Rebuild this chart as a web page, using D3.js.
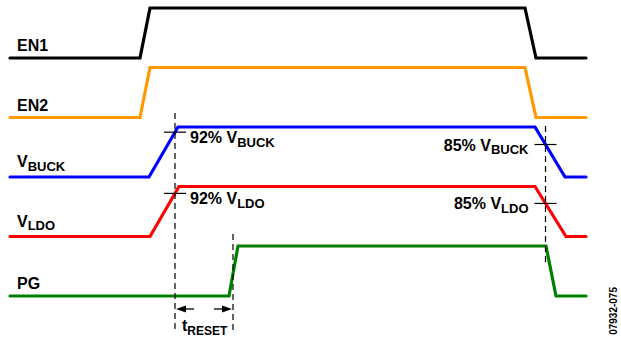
<!DOCTYPE html>
<html><head><meta charset="utf-8">
<script src="https://cdn.jsdelivr.net/npm/d3@7"></script>
<style>
body{margin:0;background:#fff}
svg{display:block}
text{font-family:"Liberation Sans",Arial,sans-serif;font-weight:bold;fill:#000}
</style>
</head><body>
<svg id="c" width="621" height="337"></svg>
<script>
// ---- data ----
const signalNames = ["EN1", "EN2", "VBUCK", "VLDO", "PG"];
const labelMain = ["EN1", "EN2", "V", "V", "PG"];
const labelSub = ["", "", "BUCK", "LDO", ""];
const signalColors = ["#000000", "#FF9900", "#0000FF", "#FF0000", "#008000"];
const en1Times = [10, 140, 150, 525, 536, 586];
const en2Times = [10, 140, 150, 525, 536, 586];
const vbuckTimes = [10, 149, 178, 535, 565, 586];
const vldoTimes = [10, 150, 179, 535, 566, 586];
const pgTimes = [10, 229, 238, 546, 556, 586];
const levels = [0, 0, 1, 1, 0, 0];
const allTimes = [en1Times, en2Times, vbuckTimes, vldoTimes, pgTimes];
// threshold markers: signal index, crossing time, label text, subscript
const markerSignal = [2, 3, 2, 3];
const markerTime = [175, 175, 545.5, 545.5];
const markerText = ["92% V", "92% V", "85% V", "85% V"];
const markerSub = ["BUCK", "LDO", "BUCK", "LDO"];
const resetStart = 175, resetEnd = 233;
const figCode = "07932-075";

// ---- scales ----
const svg = d3.select("#c");
const x = d3.scaleLinear().domain([0, 621]).range([0, 621]);
const row = d3.scaleLinear().domain([0, 4]).range([58, 296]);
const amp = d3.scaleLinear().domain([0, 1]).range([0, -50]);
const yOf = (i, lv) => row(i) + amp(lv);
const mainFs = 16, subFs = 13;

// ---- waveforms ----
signalNames.forEach((name, i) => {
  const pts = allTimes[i].map((t, k) => [t, levels[k]]);
  const line = d3.line().x(d => x(d[0])).y(d => yOf(i, d[1]));
  svg.append("path").attr("d", line(pts)).attr("fill", "none")
    .attr("stroke", signalColors[i]).attr("stroke-width", 3.2)
    .attr("stroke-linecap", "round").attr("stroke-linejoin", "miter");
  const offs = labelSub[i] ? 10 : 7;
  const t = svg.append("text").attr("x", 17).attr("y", row(i) - offs).attr("font-size", mainFs);
  t.append("tspan").text(labelMain[i]);
  if (labelSub[i]) t.append("tspan").attr("dy", 3.5).attr("font-size", subFs).text(labelSub[i]);
});

function levelAt(i, t) {
  const ts = allTimes[i];
  for (let k = 0; k < ts.length - 1; k++) {
    if (t >= ts[k] && t <= ts[k + 1]) {
      const f = (t - ts[k]) / (ts[k + 1] - ts[k]);
      return levels[k] + f * (levels[k + 1] - levels[k]);
    }
  }
  return 0;
}

// ---- dashed guide lines ----
const dash = (t, y1, y2) => svg.append("line").attr("x1", x(t)).attr("x2", x(t))
  .attr("y1", y1).attr("y2", y2).attr("stroke", "#000").attr("stroke-width", 1.2)
  .attr("stroke-dasharray", "6,4");
dash(resetStart, yOf(2, 1) - 14, 333);
dash(resetEnd, yOf(4, 1) - 12, 333);
dash(markerTime[2], yOf(2, 1) - 1, 262);

// ---- threshold crosshairs and labels ----
markerTime.forEach((t, m) => {
  const i = markerSignal[m];
  const cy = yOf(i, levelAt(i, t));
  svg.append("line").attr("x1", x(t) - 11).attr("x2", x(t) + 11)
    .attr("y1", cy).attr("y2", cy).attr("stroke", "#000").attr("stroke-width", 1.2);
  const rising = m < 2;
  const tx = svg.append("text")
    .attr("x", rising ? x(t) + 15 : x(t) - 17)
    .attr("y", rising ? cy + 11 : cy + 6)
    .attr("text-anchor", rising ? "start" : "end")
    .attr("font-size", mainFs);
  tx.append("tspan").text(markerText[m]);
  tx.append("tspan").attr("dy", 3.5).attr("font-size", subFs).text(markerSub[m]);
});

// ---- tRESET arrows ----
const ay = 309;
function arrow(tail, tip) {
  const dir = Math.sign(tip - tail);
  svg.append("line").attr("x1", tail).attr("x2", tip - dir * 8).attr("y1", ay).attr("y2", ay)
    .attr("stroke", "#000").attr("stroke-width", 1.3);
  svg.append("path").attr("d", `M${tip},${ay}L${tip - dir * 10},${ay - 3.5}L${tip - dir * 10},${ay + 3.5}Z`)
    .attr("fill", "#000");
}
arrow(x(resetStart) + 19, x(resetStart) + 1);
arrow(x(resetEnd) - 19, x(resetEnd) - 1);
const rt = svg.append("text").attr("x", x(resetStart) + 7).attr("y", 331).attr("font-size", 16);
rt.append("tspan").text("t");
rt.append("tspan").attr("dy", 3.5).attr("font-size", 12).text("RESET");

// ---- figure code ----
svg.append("text").attr("transform", "translate(617,287) rotate(-90)")
  .attr("text-anchor", "end").attr("font-size", 10).attr("font-weight", "normal")
  .text(figCode);
</script>
</body></html>
